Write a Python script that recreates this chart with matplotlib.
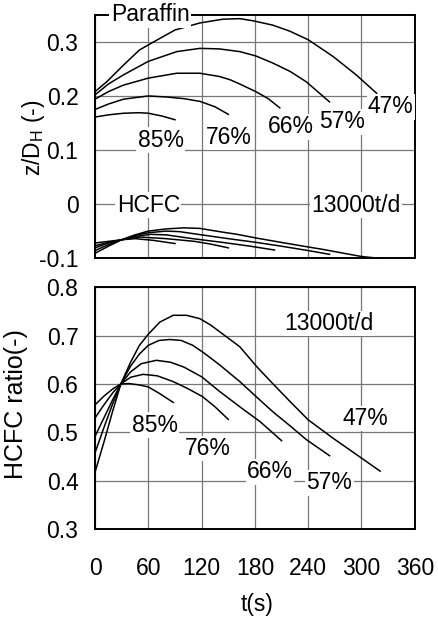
import numpy as np
import matplotlib.pyplot as plt

plt.rcParams["font.family"] = ["Liberation Sans", "DejaVu Sans"]
plt.rcParams["mathtext.default"] = "regular"

LEVELS = ["47%", "57%", "66%", "76%", "85%"]

# paraffin interface height z/DH vs time, one curve per level
par_t = {
    "47%": [0, 13, 32, 50, 66, 90, 118, 144, 163, 178, 200, 219, 240, 268, 294, 317],
    "57%": [0, 15, 32, 60, 92, 118, 140, 163, 181, 200, 220, 238, 264],
    "66%": [0, 15, 32, 60, 92, 118, 140, 152, 163, 181, 195, 208],
    "76%": [0, 15, 32, 60, 81, 100, 118, 135, 150],
    "85%": [0, 15, 32, 50, 60, 75, 90],
}
par_z = {
    "47%": [0.208, 0.226, 0.257, 0.285, 0.300, 0.322, 0.335, 0.342, 0.343, 0.339, 0.331, 0.320, 0.304, 0.273, 0.239, 0.205],
    "57%": [0.202, 0.222, 0.239, 0.264, 0.282, 0.288, 0.287, 0.282, 0.274, 0.261, 0.245, 0.226, 0.189],
    "66%": [0.194, 0.208, 0.220, 0.233, 0.242, 0.242, 0.236, 0.230, 0.222, 0.208, 0.195, 0.178],
    "76%": [0.175, 0.185, 0.194, 0.200, 0.198, 0.195, 0.190, 0.180, 0.166],
    "85%": [0.161, 0.165, 0.168, 0.169, 0.168, 0.163, 0.156],
}

# HCFC interface height z/DH vs time
hcfc_t = {
    "47%": [0, 15, 30, 45, 60, 80, 100, 118, 140, 160, 182, 210, 235, 257, 280, 300, 318],
    "57%": [0, 15, 30, 45, 60, 80, 95, 120, 150, 182, 210, 240, 264],
    "66%": [0, 15, 30, 45, 62, 80, 110, 144, 175, 202],
    "76%": [0, 15, 30, 51, 80, 112, 130, 150],
    "85%": [0, 15, 30, 45, 65, 90],
}
hcfc_z = {
    "47%": [-0.091, -0.078, -0.066, -0.057, -0.050, -0.046, -0.044, -0.045, -0.051, -0.056, -0.063, -0.071, -0.078, -0.084, -0.091, -0.097, -0.100],
    "57%": [-0.086, -0.075, -0.066, -0.058, -0.053, -0.050, -0.051, -0.057, -0.064, -0.071, -0.078, -0.086, -0.093],
    "66%": [-0.081, -0.072, -0.066, -0.060, -0.056, -0.057, -0.064, -0.071, -0.078, -0.085],
    "76%": [-0.077, -0.071, -0.066, -0.061, -0.064, -0.069, -0.074, -0.081],
    "85%": [-0.072, -0.069, -0.066, -0.064, -0.067, -0.073],
}

# HCFC ratio vs time
ratio_t = {
    "47%": [0, 10, 20, 29, 40, 50, 60, 73, 88, 103, 118, 130, 144, 163, 182, 200, 220, 240, 268, 300, 321],
    "57%": [0, 10, 20, 29, 40, 50, 60, 72, 84, 97, 110, 122, 140, 163, 182, 200, 220, 238, 264],
    "66%": [0, 10, 20, 29, 40, 52, 69, 85, 100, 120, 140, 163, 186, 210],
    "76%": [0, 10, 20, 29, 40, 54, 70, 88, 105, 121, 135, 150],
    "85%": [0, 10, 20, 29, 38, 50, 60, 73, 88],
}
ratio_v = {
    "47%": [0.418, 0.480, 0.545, 0.600, 0.645, 0.680, 0.703, 0.728, 0.742, 0.742, 0.735, 0.722, 0.703, 0.677, 0.636, 0.601, 0.563, 0.526, 0.488, 0.447, 0.420],
    "57%": [0.458, 0.510, 0.560, 0.600, 0.637, 0.662, 0.680, 0.690, 0.692, 0.690, 0.680, 0.665, 0.640, 0.605, 0.573, 0.543, 0.513, 0.485, 0.452],
    "66%": [0.492, 0.530, 0.568, 0.600, 0.625, 0.642, 0.649, 0.645, 0.635, 0.615, 0.585, 0.553, 0.522, 0.483],
    "76%": [0.530, 0.557, 0.582, 0.600, 0.614, 0.620, 0.617, 0.605, 0.590, 0.574, 0.553, 0.527],
    "85%": [0.557, 0.575, 0.590, 0.600, 0.601, 0.598, 0.594, 0.580, 0.562],
}

# label anchor points (t, value)
top_label_pos = {"47%": (333, 0.180), "57%": (278, 0.152), "66%": (221, 0.143), "76%": (151, 0.124), "85%": (74, 0.118)}
bot_label_pos = {"47%": (304, 0.529), "57%": (264, 0.396), "66%": (197, 0.419), "76%": (127, 0.467), "85%": (67, 0.515)}

FS = 16.5
box = dict(facecolor="white", edgecolor="none", pad=1.0)


def style_axes(ax, ylim, yticks, ylabels):
    ax.set_xlim(0, 360)
    ax.set_ylim(*ylim)
    ax.set_xticks(np.arange(0, 361, 60))
    ax.set_yticks(yticks)
    ax.set_yticklabels(ylabels)
    ax.grid(True, color="#777777", linewidth=0.9)
    ax.set_axisbelow(True)
    ax.tick_params(length=0, labelsize=FS, pad=12)
    for s in ax.spines.values():
        s.set_linewidth(1.4)


fig = plt.figure(figsize=(4.38, 6.19), dpi=100)
ax1 = fig.add_axes([0.217, 0.583, 0.730, 0.393])
ax2 = fig.add_axes([0.217, 0.145, 0.730, 0.391])

# upper panel: interface heights
for lv in LEVELS:
    ax1.plot(par_t[lv], par_z[lv], color="black", lw=1.1)
    ax1.plot(hcfc_t[lv], hcfc_z[lv], color="black", lw=1.1)
    x, y = top_label_pos[lv]
    ax1.text(x, y, lv, fontsize=FS, ha="center", va="center", bbox=box)

style_axes(ax1, (-0.1, 0.35), [-0.1, 0, 0.1, 0.2, 0.3], ["-0.1", "0", "0.1", "0.2", "0.3"])
ax1.tick_params(labelbottom=False)
ax1.text(62, 0.35, "Paraffin", fontsize=FS, ha="center", va="center", bbox=box, clip_on=False, zorder=5)
ax1.text(60, -0.002, "HCFC", fontsize=FS, ha="center", va="center", bbox=box)
ax1.text(294, -0.002, "13000t/d", fontsize=FS, ha="center", va="center", bbox=box)
ax1.set_ylabel("z/D$_{H}$ (-)", fontsize=16.5)
ax1.yaxis.set_label_coords(-0.15, 0.494)

# lower panel: HCFC ratio
for lv in LEVELS:
    ax2.plot(ratio_t[lv], ratio_v[lv], color="black", lw=1.1)
    x, y = bot_label_pos[lv]
    ax2.text(x, y, lv, fontsize=FS, ha="center", va="center", bbox=box)

style_axes(ax2, (0.3, 0.8), [0.3, 0.4, 0.5, 0.6, 0.7, 0.8], ["0.3", "0.4", "0.5", "0.6", "0.7", "0.8"])
ax2.tick_params(axis="x", pad=20)
ax2.text(263, 0.725, "13000t/d", fontsize=FS, ha="center", va="center", bbox=box)
ax2.set_ylabel("HCFC ratio(-)", fontsize=18)
ax2.yaxis.set_label_coords(-0.209, 0.517)
ax2.set_xlabel("t(s)", fontsize=16.5)
ax2.xaxis.set_label_coords(0.506, -0.265)

fig.savefig("out.png", dpi=100)
